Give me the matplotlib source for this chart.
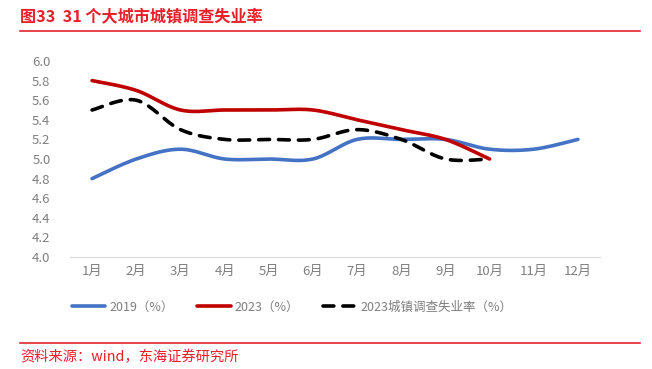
import matplotlib.pyplot as plt
import numpy as np

plt.rcParams['font.family'] = ['Noto Sans CJK SC', 'DejaVu Sans']

months = ['1月', '2月', '3月', '4月', '5月', '6月', '7月', '8月', '9月', '10月', '11月', '12月']
rate_2019 = [4.8, 5.0, 5.1, 5.0, 5.0, 5.0, 5.2, 5.2, 5.2, 5.1, 5.1, 5.2]
rate_2023 = [5.8, 5.7, 5.5, 5.5, 5.5, 5.5, 5.4, 5.3, 5.2, 5.0]
rate_2023_town = [5.5, 5.6, 5.3, 5.2, 5.2, 5.2, 5.3, 5.2, 5.0, 5.0]


def smooth(y, n=20):
    # Excel-style smoothed line: cubic bezier through the points
    y = np.asarray(y, dtype=float)
    x = np.arange(len(y), dtype=float)
    xs, ys = [], []
    for i in range(len(y) - 1):
        p0 = np.array([x[max(i - 1, 0)], y[max(i - 1, 0)]])
        p1 = np.array([x[i], y[i]])
        p2 = np.array([x[i + 1], y[i + 1]])
        p3 = np.array([x[min(i + 2, len(y) - 1)], y[min(i + 2, len(y) - 1)]])
        c1 = p1 + (p2 - p0) / 6
        c2 = p2 - (p3 - p1) / 6
        t = np.linspace(0, 1, n)[:, None]
        pts = (1 - t) ** 3 * p1 + 3 * (1 - t) ** 2 * t * c1 + 3 * (1 - t) * t ** 2 * c2 + t ** 3 * p2
        xs.extend(pts[:, 0])
        ys.extend(pts[:, 1])
    return np.array(xs), np.array(ys)


fig = plt.figure(figsize=(6.52, 3.69), dpi=100)
ax = fig.add_axes([70 / 652, 1 - 257 / 369, 530 / 652, 196 / 369])

x, y = smooth(rate_2019)
ax.plot(x, y, color='#4472C4', lw=2.6, label='2019（%）', solid_capstyle='round')
x, y = smooth(rate_2023)
ax.plot(x, y, color='#C00000', lw=2.6, label='2023（%）', solid_capstyle='round')
x, y = smooth(rate_2023_town)
ax.plot(x, y, color='black', lw=2.6, ls=(0, (3, 2.5)), label='2023城镇调查失业率（%）',
        dash_capstyle='round')

ax.set_xlim(-0.5, 11.5)
ax.set_ylim(4.0, 6.0)
ax.set_yticks(np.arange(4.0, 6.01, 0.2))
ax.set_yticklabels([f'{v:.1f}' for v in np.arange(4.0, 6.01, 0.2)])
ax.set_xticks(range(len(months)))
ax.set_xticklabels(months)
ax.tick_params(axis='both', length=0, labelsize=9.5, colors='#7f7f7f', pad=6)
ax.tick_params(axis='y', pad=14)
for s in ['top', 'right', 'left']:
    ax.spines[s].set_visible(False)
ax.spines['bottom'].set_color('#d9d9d9')

fig.legend(loc='center', bbox_to_anchor=(0.448, 1 - 307 / 369), ncol=3, frameon=False,
           fontsize=9, labelcolor='#7f7f7f', handlelength=2.7, columnspacing=1.9,
           handletextpad=0.3)

fig.text(20 / 652, 1 - 17 / 369, '图33  31 个大城市城镇调查失业率', color='#E8202A',
         fontsize=11.6, fontweight='bold', va='center')
fig.add_artist(plt.Line2D([20 / 652, 640 / 652], [1 - 31 / 369, 1 - 31 / 369],
                          color='#E8202A', lw=1.2))
fig.add_artist(plt.Line2D([20 / 652, 640 / 652], [1 - 343 / 369, 1 - 343 / 369],
                          color='#E8202A', lw=1.2))
fig.text(20 / 652, 1 - 357 / 369, '资料来源：wind，东海证券研究所', color='#E8202A',
         fontsize=10.3, va='center')

fig.savefig('out.png', dpi=100)
